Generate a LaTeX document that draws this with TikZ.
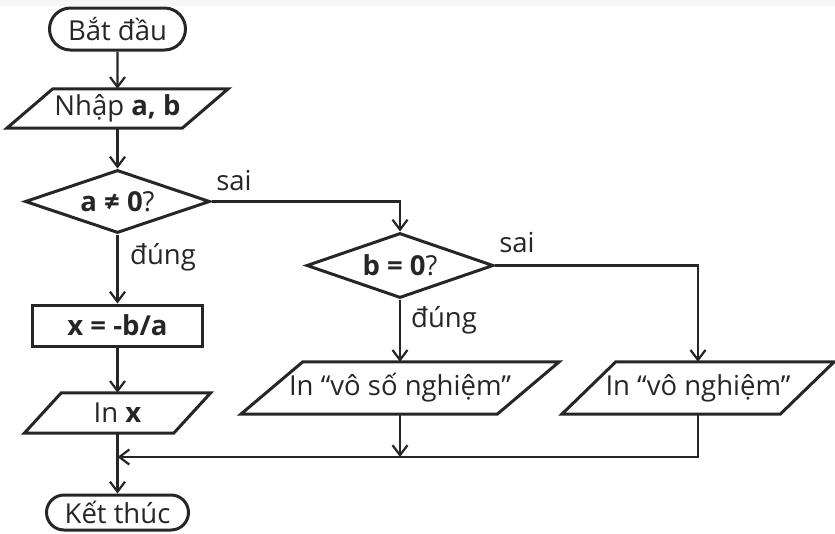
\documentclass[tikz,border=0pt]{standalone}
\usepackage{fontspec}
\setmainfont{Open Sans}
\usetikzlibrary{shapes.geometric,shapes.misc,arrows.meta}
\definecolor{ink}{RGB}{38,38,38}
\definecolor{band}{RGB}{246,246,246}
% outline of a slanted input/output box drawn around a plain node
\newcommand\slantbox[2]{\draw[shapeline] (#1.south west) -- ([xshift=-#2pt]#1.south east) -- (#1.north east) -- ([xshift=#2pt]#1.north west) -- cycle;}
\begin{document}
\begin{tikzpicture}[x=1pt,y=-1pt,
  font=\fontsize{27.5}{32}\selectfont, text=ink,
  shapeline/.style={draw=ink,line width=3pt,line join=miter},
  flow/.style={draw=ink,line width=2.2pt,-{Straight Barb[length=10pt,width=15pt]}},
  terminal/.style={shapeline,rounded rectangle,inner sep=0pt},
  decision/.style={shapeline,diamond,aspect=3,inner sep=0pt},
  process/.style={shapeline,rectangle,inner sep=0pt},
  iobox/.style={rectangle,inner sep=0pt},
  lbl/.style={inner sep=0pt}
]
\useasboundingbox (0,0) rectangle (835,533);
\fill[band] (0,0) rectangle (835,6);

% main column
\node[terminal,minimum width=136pt,minimum height=42pt] (start) at (117.5,29) {Bắt đầu};
\node[iobox,minimum width=221pt,minimum height=39pt] (input) at (117.5,108.5) {Nhập \textbf{a, b}};
\slantbox{input}{46}
\node[decision,minimum width=185pt,minimum height=63pt] (da) at (117.5,201.5) {\textbf{a ≠ 0}?};
\node[process,minimum width=170pt,minimum height=41pt] (calc) at (117.5,325.5) {\textbf{x = -b/a}};
\node[iobox,minimum width=186pt,minimum height=40pt] (outx) at (117.5,413) {In \textbf{x}};
\slantbox{outx}{37}
\node[terminal,minimum width=142pt,minimum height=35pt] (stop) at (117.5,512.5) {Kết thúc};

% second decision and its outputs
\node[decision,minimum width=187pt,minimum height=65pt] (db) at (400,265.5) {\textbf{b = 0}?};
\node[iobox,minimum width=318pt,minimum height=52pt] (inf) at (400,388) {In “vô số nghiệm”};
\slantbox{inf}{62}
\node[iobox,minimum width=272pt,minimum height=52pt] (none) at (698,388) {In “vô nghiệm”};
\slantbox{none}{54}

\coordinate (m1) at (400,457);
\coordinate (m2) at (117.5,457);

% connectors
\draw[flow] (start) -- (input);
\draw[flow] (input) -- (da);
\draw[flow] (da.south) -- (calc.north);
\draw[flow] (calc) -- (outx);
\draw[flow] (outx.south) -- (stop.north);
\draw[flow] (da.east) -| (db.north);
\draw[flow] (db.south) -- (inf.north);
\draw[flow] (db.east) -| (none.north);
\draw[flow] (inf.south) -- (m1);
\draw[flow] (none.south) |- (m2);

% branch labels
\node[lbl] (sai1) at (234,181) {sai};
\node[lbl] (dung1) at (163,257) {đúng};
\node[lbl] (sai2) at (517,243) {sai};
\node[lbl] (dung2) at (444,320) {đúng};
\end{tikzpicture}
\end{document}
